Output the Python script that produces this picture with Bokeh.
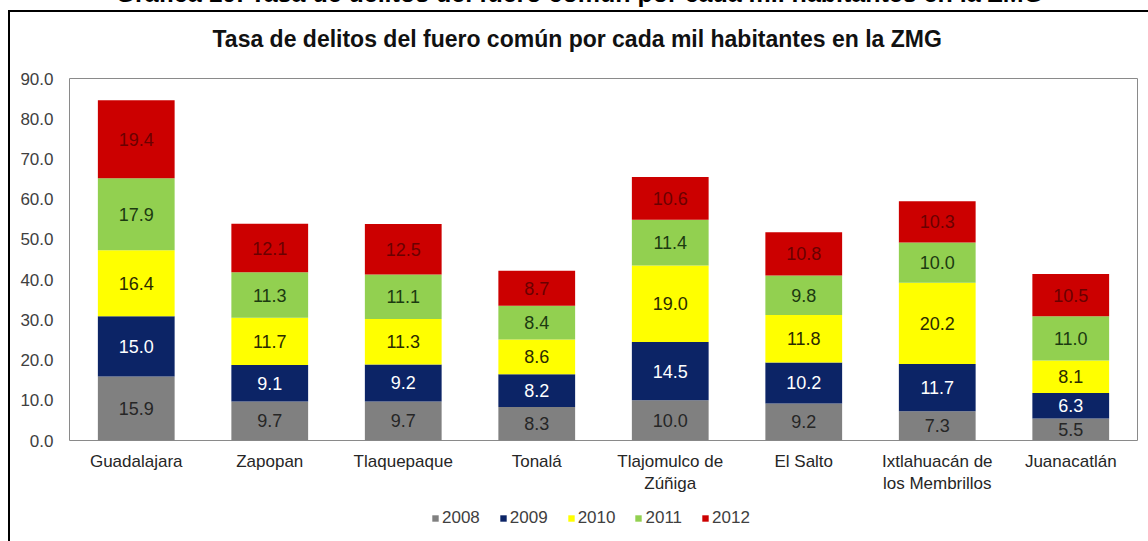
from bokeh.plotting import figure
from bokeh.layouts import column
from bokeh.models import (ColumnDataSource, FactorRange, Range1d, FixedTicker,
                          NumeralTickFormatter, Legend, LegendItem, Title)
from bokeh.core.properties import value
from bokeh.embed import file_html
from bokeh.resources import INLINE

# ---------------- data ----------------
municipios = ["Guadalajara", "Zapopan", "Tlaquepaque", "Tonalá",
              "Tlajomulco de\nZúñiga", "El Salto", "Ixtlahuacán de\nlos Membrillos",
              "Juanacatlán"]
years = ["2008", "2009", "2010", "2011", "2012"]
v2008 = [15.9, 9.7, 9.7, 8.3, 10.0, 9.2, 7.3, 5.5]
v2009 = [15.0, 9.1, 9.2, 8.2, 14.5, 10.2, 11.7, 6.3]
v2010 = [16.4, 11.7, 11.3, 8.6, 19.0, 11.8, 20.2, 8.1]
v2011 = [17.9, 11.3, 11.1, 8.4, 11.4, 9.8, 10.0, 11.0]
v2012 = [19.4, 12.1, 12.5, 8.7, 10.6, 10.8, 10.3, 10.5]
y_ticks = [0, 10, 20, 30, 40, 50, 60, 70, 80, 90]
titulo = "Tasa de delitos del fuero común por cada mil habitantes en la ZMG"
titulo_doc = "Gráfica 19. Tasa de delitos del fuero común por cada mil habitantes en la ZMG"

series = [v2008, v2009, v2010, v2011, v2012]
colors = ["#808080", "#0c2466", "#ffff00", "#92d050", "#cc0000"]
label_colors = ["#262626", "#ffffff", "#2b2b00", "#1c3a10", "#6a0000"]

FONT = value("Liberation Sans")

src = ColumnDataSource(dict(mun=municipios, **{y: s for y, s in zip(years, series)}))

# main chart; its canvas starts 50px above the page top so the cut heading can overflow
p = figure(width=1148, height=550, output_backend="svg", toolbar_location=None,
           x_range=FactorRange(*municipios, range_padding=0),
           y_range=Range1d(0, 90), title=None,
           min_border_left=69, min_border_right=11, min_border_top=128, min_border_bottom=60,
           styles={"margin-top": "-50px",
                   "box-shadow": "inset 8px 60px 0 0 #ffffff, inset 10px 62px 0 0 #000000"})
p.border_fill_color = None
p.outline_line_color = "#8a8a8a"
p.outline_line_width = 1
p.xgrid.grid_line_color = None
p.ygrid.grid_line_color = None

rends = p.vbar_stack(years, x="mun", width=0.575, color=colors, line_color=None, source=src)

# value labels
lx, ly, lt, lc = [], [], [], []
for i, m in enumerate(municipios):
    base = 0.0
    for k, s in enumerate(series):
        lx.append(m)
        ly.append(base + s[i] / 2.0)
        lt.append(f"{s[i]:.1f}")
        lc.append(label_colors[k])
        base += s[i]
lab = ColumnDataSource(dict(x=lx, y=ly, t=lt, c=lc))
p.text(x="x", y="y", text="t", text_color="c", source=lab, text_align="center",
       text_baseline="middle", text_font=FONT, text_font_size="18px")

# axes
p.yaxis.ticker = FixedTicker(ticks=y_ticks)
p.yaxis.formatter = NumeralTickFormatter(format="0.0")
p.yaxis.axis_line_color = None
p.yaxis.major_tick_line_color = None
p.yaxis.minor_tick_line_color = None
p.yaxis.major_tick_in = 0
p.yaxis.major_tick_out = 0
p.yaxis.major_label_standoff = 16
p.yaxis.major_label_text_font = "Liberation Sans"
p.yaxis.major_label_text_font_size = "17px"
p.yaxis.major_label_text_color = "#404040"

p.xaxis.axis_line_color = None
p.xaxis.major_tick_line_color = None
p.xaxis.major_tick_in = 0
p.xaxis.major_tick_out = 0
p.xaxis.major_label_standoff = 11
p.xaxis.major_label_text_font = "Liberation Sans"
p.xaxis.major_label_text_font_size = "17px"
p.xaxis.major_label_text_color = "#262626"

# titles stacked above the frame: spacer, chart title, cut document heading
p.add_layout(Title(text=" ", text_font_size="1px", standoff=24), "above")
p.add_layout(Title(text=titulo, align="left", offset=143, standoff=0,
                   text_font="Liberation Sans", text_font_style="bold",
                   text_font_size="23px", text_color="#111111"), "above")
p.add_layout(Title(text=titulo_doc, align="left", offset=46, standoff=33,
                   text_font="Liberation Sans", text_font_style="bold",
                   text_font_size="25px", text_color="#000000"), "above")

# legend strip below the chart (its own small canvas, so the legend is not clipped);
# its bars are hidden, only their legend swatches show
pl = figure(width=1148, height=41, output_backend="svg", toolbar_location=None,
            x_range=FactorRange(*municipios, range_padding=0), y_range=Range1d(0, 90),
            x_axis_type=None, y_axis_type=None, min_border=0,
            styles={"box-shadow": "inset 8px 0 0 0 #ffffff, inset 10px 0 0 0 #000000"})
pl.border_fill_color = None
pl.background_fill_color = None
pl.outline_line_color = None
leg_rends = pl.vbar_stack(years, x="mun", width=0.575, color=colors, line_color=None,
                          source=src)
for r in leg_rends:
    r.visible = False
legend = Legend(items=[LegendItem(label=y, renderers=[r]) for y, r in zip(years, leg_rends)],
                orientation="horizontal", location=(362, 13),
                glyph_width=8, glyph_height=8, label_height=17, label_standoff=3,
                spacing=19, padding=0, margin=0,
                background_fill_alpha=0, border_line_color=None,
                inactive_fill_alpha=0,
                label_text_font="Liberation Sans", label_text_font_size="17px",
                label_text_color="#404040")
pl.add_layout(legend, "center")

layout = column(p, pl, spacing=0)
open("out.html", "w").write(file_html(layout, INLINE))
